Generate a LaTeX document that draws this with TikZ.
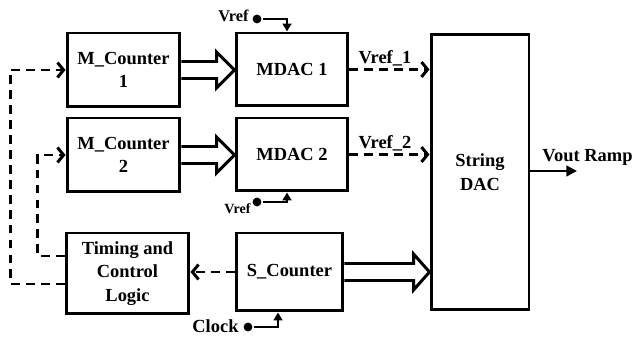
\documentclass[tikz,border=0pt]{standalone}
\usepackage{fontspec}
\setmainfont{Liberation Serif}
\usetikzlibrary{arrows.meta,calc}
\begin{document}
\begin{tikzpicture}[x=0.02cm,y=-0.02cm,
  line width=1.7pt,
  font=\bfseries\fontsize{10.5}{13.5}\selectfont,
  box/.style={draw, rectangle, align=center, inner sep=1pt},
  lbl/.style={inner sep=0pt},
  dot/.style={circle, fill, inner sep=0pt, minimum size=5pt},
  dsh/.style={dash pattern=on 5pt off 3.5pt, -{Straight Barb[length=3.5pt,width=8.5pt]}},
  tip/.style={line width=1.4pt, -{Triangle[length=4.5pt,width=5pt]}},
  hollow/.style={line join=miter, to path={let \p1=(\tikztostart), \p2=(\tikztotarget) in
     (\x1,\y1+0.17cm) -- (\x2-#1,\y1+0.17cm) -- (\x2-#1,\y1+0.36cm) -- (\x2,\y1)
     -- (\x2-#1,\y1-0.36cm) -- (\x2-#1,\y1-0.17cm) -- (\x1,\y1-0.17cm)}},
  hollow/.default=0.36cm]
\useasboundingbox (0,0) rectangle (636,337);

% blocks
\node[box, minimum width=2.26cm, minimum height=1.48cm] (m1) at (123.5,70) {M\_Counter\\1};
\node[box, minimum width=2.24cm, minimum height=1.46cm] (d1) at (292,69.5) {MDAC 1};
\node[box, minimum width=2.26cm, minimum height=1.48cm] (m2) at (123.5,155) {M\_Counter\\2};
\node[box, minimum width=2.24cm, minimum height=1.46cm] (d2) at (292,154.5) {MDAC 2};
\node[box, minimum width=2.46cm, minimum height=1.62cm] (tc) at (127.5,273.5) {Timing and\\Control\\Logic};
\node[box, minimum width=2.14cm, minimum height=1.56cm] (sc) at (289.5,272) {S\_Counter};
\node[box, minimum width=1.96cm, minimum height=5.52cm] (sd) at (480,172) {String\\DAC};

% hollow bus arrows
\draw[hollow] (m1.east) to (d1.west);
\draw[hollow] (m2.east) to (d2.west);
\draw[hollow=0.32cm] (sc.east) to ($(sc.east -| sd.west)$);

% Vref_1 / Vref_2
\draw[dsh] (d1.east) -- (d1.east -| sd.west);
\draw[dsh] (d2.east) -- (d2.east -| sd.west);
\node[lbl] (l1) at (385,58) {Vref\_1};
\node[lbl] (l2) at (385,143) {Vref\_2};

% output
\coordinate (vo) at (577,171);
\draw[line width=1.4pt, -{Triangle[length=6pt,width=6pt]}] (vo -| sd.east) -- (vo);
\node[lbl] (lo) at (587.5,157) {Vout Ramp};

% reference and clock inputs
\node[dot] (v1) at (257,19) {};
\node[lbl, anchor=east, font=\bfseries\fontsize{9.3}{11}\selectfont] (lv1) at (250,16) {Vref};
\draw[tip] (v1) -| ([xshift=-0.1cm]d1.north);

\node[dot] (v2) at (257,202) {};
\node[lbl, anchor=east, font=\bfseries\fontsize{8}{10}\selectfont] (lv2) at (252,209) {Vref};
\draw[tip] (v2) -| ([xshift=-0.1cm]d2.south);

\node[dot] (ck) at (248,327) {};
\node[lbl, anchor=east] (lck) at (240,326) {Clock};
\draw[tip] (ck) -| ([xshift=-0.23cm]sc.south);

% control paths
\draw[dsh] (sc.west) -- (sc.west -| tc.east);
\draw[dsh] ([yshift=-0.21cm]tc.west) -- ++(-54,0) |- (m1.west);
\draw[dsh] ([yshift=0.35cm]tc.west) -- ++(-27,0) |- (m2.west);
\end{tikzpicture}
\end{document}
